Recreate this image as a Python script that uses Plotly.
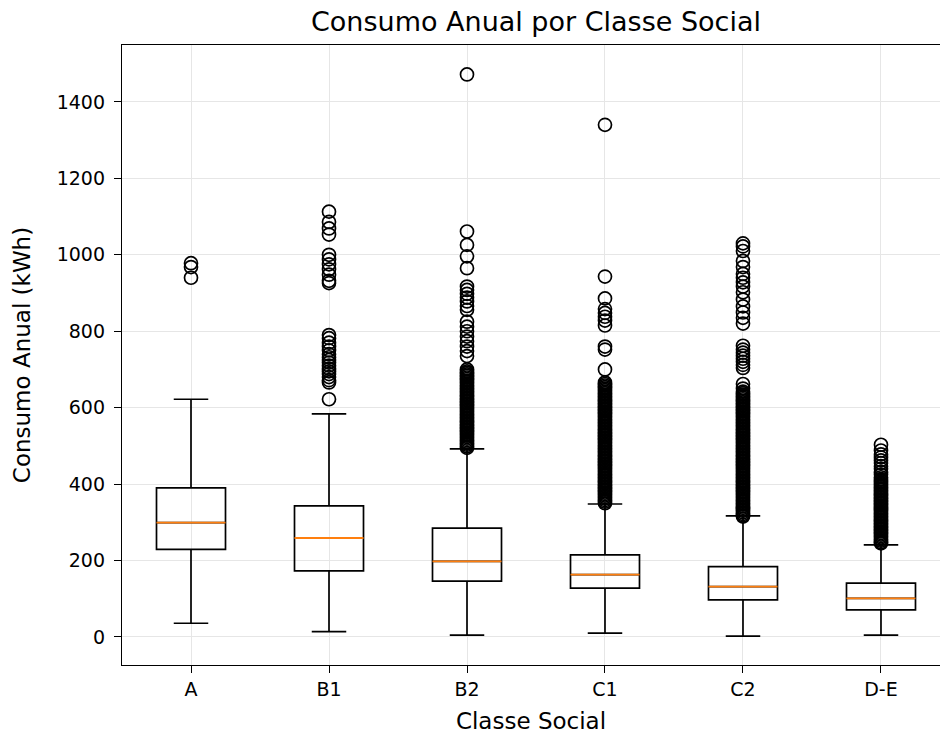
import plotly.graph_objects as go

categories = ["A", "B1", "B2", "C1", "C2", "D-E"]
positions = [1, 2, 3, 4, 5, 6]

q1 = [229, 173, 146, 128, 97, 71]
median = [299, 259, 198, 163, 132, 101]
q3 = [390, 343, 285, 215, 184, 141]
lower_whisker = [36, 14, 5, 10, 2, 5]
upper_whisker = [622, 584, 492, 348, 317, 241]

fliers_A = [978, 968, 940]
fliers_B1 = [1113, 1086, 1069, 1053, 1000, 988, 975, 962, 948, 932, 926,
             790, 782, 770, 760, 750, 740, 732, 725, 718, 710, 702, 695,
             688, 680, 672, 666, 622]
fliers_B2 = [1472, 1061, 1026, 996, 965, 917, 908, 898, 888, 878, 866, 856,
             825, 812, 800, 786, 774, 760, 748, 735,
             700, 695, 691, 687, 683, 679, 675, 671, 667, 663, 659, 655,
             651, 647, 643, 639, 635, 631, 627, 623, 619, 615, 611, 607,
             603, 599, 595, 591, 587, 583, 579, 575, 571, 567, 563, 559,
             555, 551, 547, 543, 539, 535, 531, 527, 523, 519, 515, 511,
             507, 503, 499, 495]
fliers_C1 = [1340, 943, 886, 858, 848, 838, 828, 815, 760, 752, 700,
             666, 662, 658, 654, 650, 646, 642, 638, 634, 630, 626, 622,
             618, 614, 610, 606, 602, 598, 594, 590, 586, 582, 578, 574,
             570, 566, 562, 558, 554, 550, 546, 542, 538, 534, 530, 526,
             522, 518, 514, 510, 506, 502, 498, 494, 490, 486, 482, 478,
             474, 470, 466, 462, 458, 454, 450, 446, 442, 438, 434, 430,
             426, 422, 418, 414, 410, 406, 402, 398, 394, 390, 386, 382,
             378, 374, 370, 366, 362, 358, 354, 350]
fliers_C2 = [1030, 1022, 1010, 984, 968, 950, 940, 928, 917, 902, 883, 865,
             849, 835, 820, 762, 752, 744, 736, 728, 720, 712, 704, 662, 650,
             642, 638, 634, 630, 626, 622, 618, 614, 610, 606, 602, 598,
             594, 590, 586, 582, 578, 574, 570, 566, 562, 558, 554, 550,
             546, 542, 538, 534, 530, 526, 522, 518, 514, 510, 506, 502,
             498, 494, 490, 486, 482, 478, 474, 470, 466, 462, 458, 454,
             450, 446, 442, 438, 434, 430, 426, 422, 418, 414, 410, 406,
             402, 398, 394, 390, 386, 382, 378, 374, 370, 366, 362, 358,
             354, 350, 346, 342, 338, 334, 330, 326, 322, 318, 315]
fliers_DE = [503, 488, 478, 470, 462, 455, 447, 440, 432, 425, 418,
             412, 408, 404, 400, 396, 392, 388, 384, 380, 376, 372, 368,
             364, 360, 356, 352, 348, 344, 340, 336, 332, 328, 324, 320,
             316, 312, 308, 304, 300, 296, 292, 288, 284, 280, 276, 272,
             268, 264, 260, 256, 252, 248, 245]
fliers = [fliers_A, fliers_B1, fliers_B2, fliers_C1, fliers_C2, fliers_DE]

BOX_W = 0.5
FONT = "DejaVu Sans"

fig = go.Figure()

for i, cat in enumerate(categories):
    fig.add_trace(go.Box(
        x=[positions[i]],
        q1=[q1[i]], median=[median[i]], q3=[q3[i]],
        lowerfence=[lower_whisker[i]], upperfence=[upper_whisker[i]],
        width=BOX_W, whiskerwidth=0.5,
        fillcolor="rgba(0,0,0,0)",
        line=dict(color="black", width=1.7),
        boxpoints=False, name=cat, showlegend=False,
        hoverinfo="skip",
    ))

# Median lines (orange)
mx, my = [], []
for p, m in zip(positions, median):
    mx += [p - BOX_W / 2, p + BOX_W / 2, None]
    my += [m, m, None]
fig.add_trace(go.Scatter(x=mx, y=my, mode="lines",
                         line=dict(color="#ff7f0e", width=1.8),
                         showlegend=False, hoverinfo="skip"))

# Outliers
fx, fy = [], []
for p, vals in zip(positions, fliers):
    fx += [p] * len(vals)
    fy += vals
fig.add_trace(go.Scatter(x=fx, y=fy, mode="markers",
                         marker=dict(symbol="circle-open", size=13,
                                     color="black", line=dict(width=1.7)),
                         showlegend=False, hoverinfo="skip"))

fig.update_layout(
    width=940, height=738,
    margin=dict(l=122, r=0, t=45, b=73),
    paper_bgcolor="white", plot_bgcolor="white",
    font=dict(family=FONT, size=19, color="black"),
    title=dict(text="Consumo Anual por Classe Social",
               x=536 / 940, xanchor="center",
               y=1 - 22 / 738, yanchor="middle",
               font=dict(family=FONT, size=27, color="black")),
    boxmode="overlay",
)
fig.update_xaxes(
    range=[0.5, 6.4276],
    tickmode="array", tickvals=positions, ticktext=categories,
    showgrid=True, gridcolor="#e6e6e6", gridwidth=1,
    showline=True, linecolor="black", linewidth=1.4, mirror=True,
    ticks="outside", ticklen=7, tickwidth=1.4, tickcolor="black",
    zeroline=False, automargin=False,
    tickfont=dict(family=FONT, size=19),
    title=dict(text="Classe Social", font=dict(family=FONT, size=23), standoff=13),
)
fig.update_yaxes(
    range=[-73.3, 1549],
    tickmode="array", tickvals=[0, 200, 400, 600, 800, 1000, 1200, 1400],
    showgrid=True, gridcolor="#e6e6e6", gridwidth=1,
    showline=True, linecolor="black", linewidth=1.4, mirror=False,
    ticks="outside", ticklen=7, tickwidth=1.4, tickcolor="black",
    zeroline=False, automargin=False, ticklabelstandoff=5,
    tickfont=dict(family=FONT, size=19),
    title=dict(text="Consumo Anual (kWh)", font=dict(family=FONT, size=23), standoff=19),
)

fig.write_html("out.html", config={"displayModeBar": False},
               post_script="document.body.style.margin='0';document.body.style.overflow='hidden';")
